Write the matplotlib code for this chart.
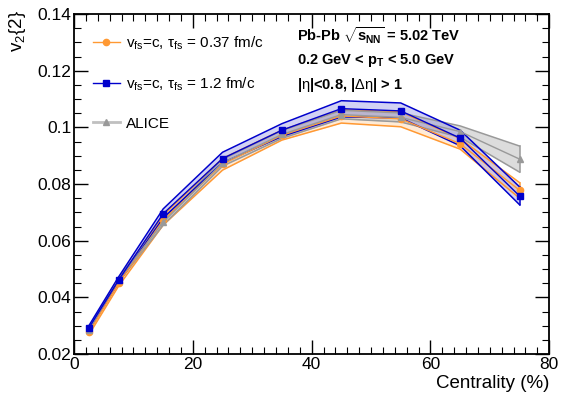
import matplotlib.pyplot as plt
from matplotlib.ticker import MultipleLocator
from matplotlib.lines import Line2D

plt.rcParams['font.family'] = ['Liberation Sans', 'DejaVu Sans']
plt.rcParams['mathtext.fontset'] = 'custom'
plt.rcParams['mathtext.rm'] = 'Liberation Sans'
plt.rcParams['mathtext.it'] = 'Liberation Sans'
plt.rcParams['mathtext.bf'] = 'Liberation Sans:bold'

# centrality bins (%)
cent = [2.5, 7.5, 15, 25, 35, 45, 55, 65, 75]

# free streaming, tau_fs = 0.37 fm/c
v2_037 = [0.0277, 0.0451, 0.0672, 0.0870, 0.0972, 0.1040, 0.1030, 0.0942, 0.0778]
v2_037_lo = [0.0268, 0.0440, 0.0655, 0.0849, 0.0955, 0.1015, 0.1002, 0.0923, 0.0750]
v2_037_hi = [0.0285, 0.0462, 0.0690, 0.0890, 0.0990, 0.1062, 0.1055, 0.0960, 0.0805]

# free streaming, tau_fs = 1.2 fm/c
v2_12 = [0.0292, 0.0461, 0.0695, 0.0890, 0.0990, 0.1066, 0.1058, 0.0962, 0.0758]
v2_12_lo = [0.0284, 0.0452, 0.0680, 0.0875, 0.0968, 0.1037, 0.1033, 0.0935, 0.0727]
v2_12_hi = [0.0300, 0.0472, 0.0712, 0.0912, 0.1013, 0.1094, 0.1086, 0.0990, 0.0790]

# ALICE data
v2_alice = [0.0285, 0.0462, 0.0665, 0.0875, 0.0975, 0.1045, 0.1035, 0.0985, 0.0888]
v2_alice_err = [0.0005, 0.0008, 0.0010, 0.0012, 0.0014, 0.0015, 0.0016, 0.0020, 0.0046]

orange = '#ff9933'
blue = '#0000cc'
gray = '#999999'

fig = plt.figure(figsize=(5.61, 4.0), dpi=100)
ax = fig.add_axes([0.132, 0.115, 0.847, 0.85])

al_lo = [v - e for v, e in zip(v2_alice, v2_alice_err)]
al_hi = [v + e for v, e in zip(v2_alice, v2_alice_err)]

ax.fill_between(cent, v2_037_lo, v2_037_hi, color='#ffe6cc', alpha=0.8, lw=0, zorder=1)
ax.fill_between(cent, al_lo, al_hi, color='#bbbbbb', alpha=0.5, lw=0, zorder=2)
ax.fill_between(cent, v2_12_lo, v2_12_hi, color='#8080e0', alpha=0.35, lw=0, zorder=3)

for lo, hi, c in [(v2_037_lo, v2_037_hi, orange), (al_lo, al_hi, gray), (v2_12_lo, v2_12_hi, blue)]:
    ax.plot(cent, lo, color=c, lw=1.1, zorder=4)
    ax.plot(cent, hi, color=c, lw=1.1, zorder=4)
    ax.plot([cent[-1], cent[-1]], [lo[-1], hi[-1]], color=c, lw=1.1, zorder=4)
    ax.plot([cent[0], cent[0]], [lo[0], hi[0]], color=c, lw=1.1, zorder=4)

ax.plot(cent, v2_037, color=orange, lw=1.0, marker='o', ms=4.5, zorder=5)
ax.plot(cent, v2_alice, color=gray, lw=1.0, marker='^', ms=4.5, zorder=5)
ax.plot(cent, v2_12, color=blue, lw=1.0, marker='s', ms=4.5, zorder=6)

ax.set_xlim(0, 80)
ax.set_ylim(0.02, 0.14)
ax.xaxis.set_major_locator(MultipleLocator(20))
ax.xaxis.set_minor_locator(MultipleLocator(2))
ax.yaxis.set_major_locator(MultipleLocator(0.02))
ax.yaxis.set_minor_locator(MultipleLocator(0.005))
ax.set_yticks([0.02, 0.04, 0.06, 0.08, 0.1, 0.12, 0.14])
ax.set_yticklabels(['0.02', '0.04', '0.06', '0.08', '0.1', '0.12', '0.14'])
ax.tick_params(which='both', direction='in', top=True, right=True, labelsize=12.5, pad=2)
ax.tick_params(which='major', length=10, width=1)
ax.tick_params(which='minor', length=5, width=0.8)
for s in ax.spines.values():
    s.set_linewidth(1.3)

ax.set_xlabel('Centrality (%)', fontsize=13.5, loc='right', labelpad=2)
fig.text(0.012, 0.975, r'v$_2${2}', rotation=90, fontsize=13.5, ha='left', va='top')

handles = [
    Line2D([], [], color=orange, lw=1.0, marker='o', ms=4.5),
    Line2D([], [], color=blue, lw=1.0, marker='s', ms=4.5),
    Line2D([], [], color='#c0c0c0', lw=2, marker='^', ms=4.5, mfc=gray, mec=gray),
]
labels = [r'v$_{\rm fs}$=c, $\tau_{\rm fs}$ = 0.37 fm/c',
          r'v$_{\rm fs}$=c, $\tau_{\rm fs}$ = 1.2 fm/c',
          'ALICE']
ax.legend(handles, labels, loc='upper left', bbox_to_anchor=(0.01, 0.98), frameon=False,
          fontsize=11, handlelength=1.8, labelspacing=1.55, handletextpad=0.4)

txt_kw = dict(transform=ax.transAxes, fontsize=10.5, fontweight='bold', ha='left', va='center')
ax.text(0.47, 0.935, r'Pb-Pb $\sqrt{\mathbf{s_{NN}}}$ = 5.02 TeV', **txt_kw)
ax.text(0.47, 0.862, r'0.2 GeV < p$_{\mathbf{T}}$ < 5.0 GeV', **txt_kw)
ax.text(0.47, 0.79, r'|$\eta$|<0.8, |$\Delta\eta$| > 1', **txt_kw)

fig.savefig('out.png', dpi=100)
